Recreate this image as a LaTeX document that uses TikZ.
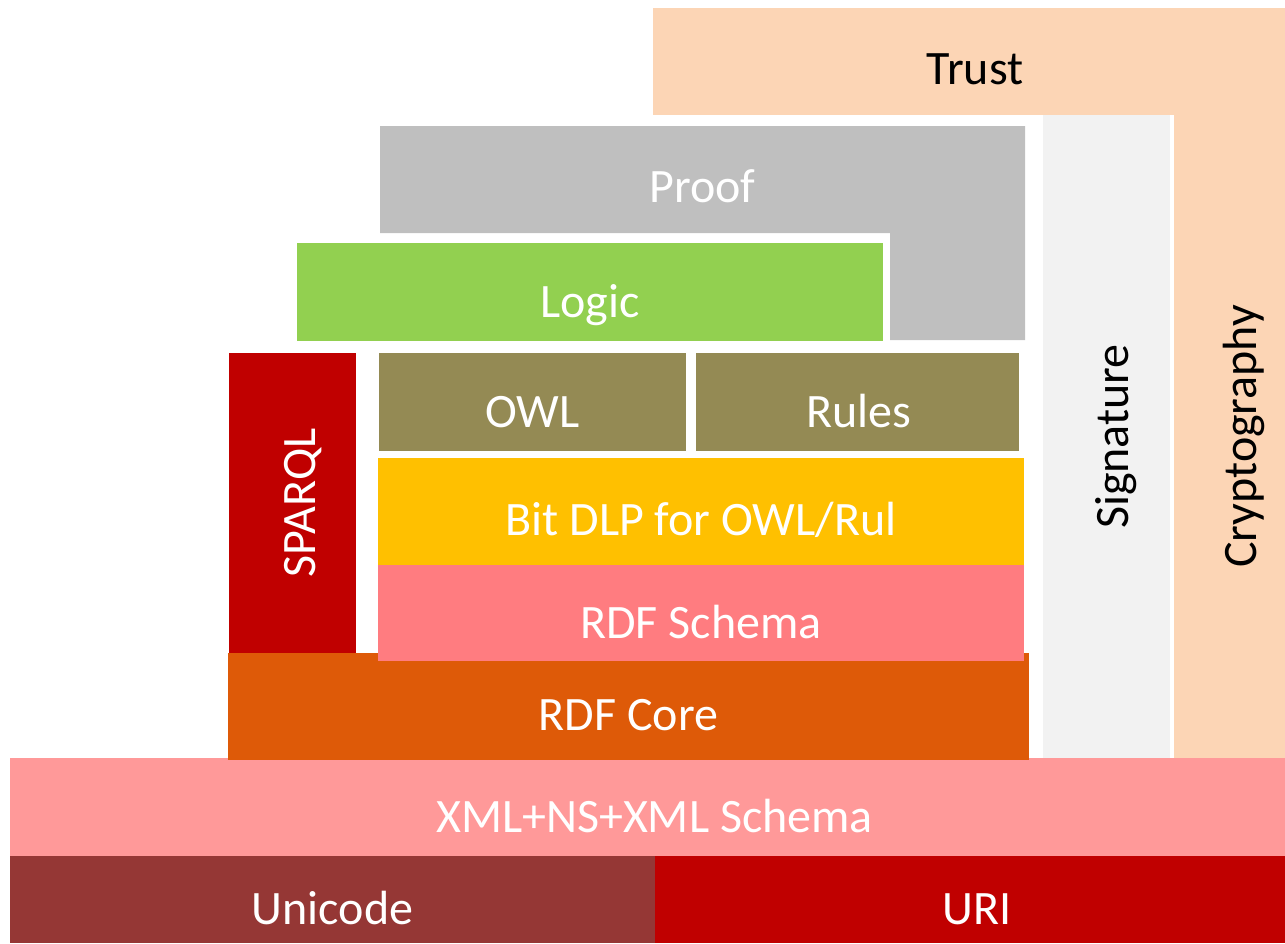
\documentclass[tikz,border=0pt]{standalone}
\usepackage{fontspec}
\setmainfont{Carlito}
\usetikzlibrary{fit}
\definecolor{trustc}{HTML}{FCD5B5}
\definecolor{proofc}{HTML}{BFBFBF}
\definecolor{logicc}{HTML}{92D050}
\definecolor{sparqlc}{HTML}{C00000}
\definecolor{owlc}{HTML}{948A54}
\definecolor{dlpc}{HTML}{FFC000}
\definecolor{rdfsc}{HTML}{FF7C80}
\definecolor{rdfcc}{HTML}{DE5A08}
\definecolor{sigc}{HTML}{F2F2F2}
\definecolor{xmlc}{HTML}{FF9999}
\definecolor{unic}{HTML}{953735}
\definecolor{uric}{HTML}{C00000}
\tikzset{
  layer/.style={inner sep=0pt, outer sep=0pt, draw=none},
  lbl/.style={font=\fontsize{24}{28}\selectfont, inner sep=0pt, anchor=base},
  wl/.style={lbl, text=white},
  bl/.style={lbl, text=black},
}
\begin{document}
\begin{tikzpicture}[x=0.5pt, y=-0.5pt]
\useasboundingbox (0,0) rectangle (1285,943);
% bottom layers
\node[layer, fill=xmlc, fit={(10,758) (1285,856)}] (xml) {};
\node[wl] at ([xshift=3.5pt, yshift=-12.5pt]xml.center) {XML+NS+XML Schema};
\node[layer, fill=unic, fit={(10,856) (655,943)}] (uni) {};
\node[wl] at ([yshift=-12.5pt]uni.center) {Unicode};
\node[layer, fill=uric, fit={(655,856) (1285,943)}] (uri) {};
\node[wl] at ([xshift=3.5pt, yshift=-12.5pt]uri.center) {URI};
% RDF core
\node[layer, fill=rdfcc, fit={(228,653) (1029,760)}] (core) {};
\node[wl] at ([yshift=-12pt]core.center) {RDF Core};
% RDF schema
\node[layer, fill=rdfsc, fit={(378,565) (1024,661)}] (rdfs) {};
\node[wl] at ([yshift=-12.5pt]rdfs.center) {RDF Schema};
% Bit DLP
\node[layer, fill=dlpc, fit={(378,458) (1024,565)}] (dlp) {};
\node[wl] at ([yshift=-12pt]dlp.center) {Bit DLP for OWL/Rul};
% OWL and Rules
\node[layer, fill=owlc, fit={(379,353) (686,451)}] (owl) {};
\node[wl] at ([yshift=-12.5pt]owl.center) {OWL};
\node[layer, fill=owlc, fit={(696,353) (1019,451)}] (rules) {};
\node[wl] at ([xshift=0.5pt, yshift=-12.5pt]rules.center) {Rules};
% SPARQL
\node[layer, fill=sparqlc, fit={(229,353) (356,653)}] (sparql) {};
\node[wl, rotate=90] at ([xshift=11.5pt]sparql.center) {SPARQL};
% Logic
\node[layer, fill=logicc, fit={(297,243) (883,341)}] (logic) {};
\node[wl] at ([yshift=-12.5pt]logic.center) {Logic};
% Proof (L shape)
\fill[proofc] (380,126) -- (1025,126) -- (1025,340) -- (890,340) -- (890,233) -- (380,233) -- cycle;
\coordinate (proofc) at (702.5,179.5);
\node[wl] (proof) at ([yshift=-11.5pt]proofc) {Proof};
% Trust
\node[layer, fill=trustc, fit={(653,8) (1285,115)}] (trust) {};
\node[bl] at ([xshift=3pt, yshift=-11.5pt]trust.center) {Trust};
% Signature
\node[layer, fill=sigc, fit={(1043,115) (1170,758)}] (sig) {};
\node[bl, rotate=90] at ([xshift=11pt]sig.center) {Signature};
% Cryptography
\node[layer, fill=trustc, fit={(1174,115) (1285,758)}] (crypto) {};
\node[bl, rotate=90] at ([xshift=13.5pt]crypto.center) {Cryptography};
\end{tikzpicture}
\end{document}
